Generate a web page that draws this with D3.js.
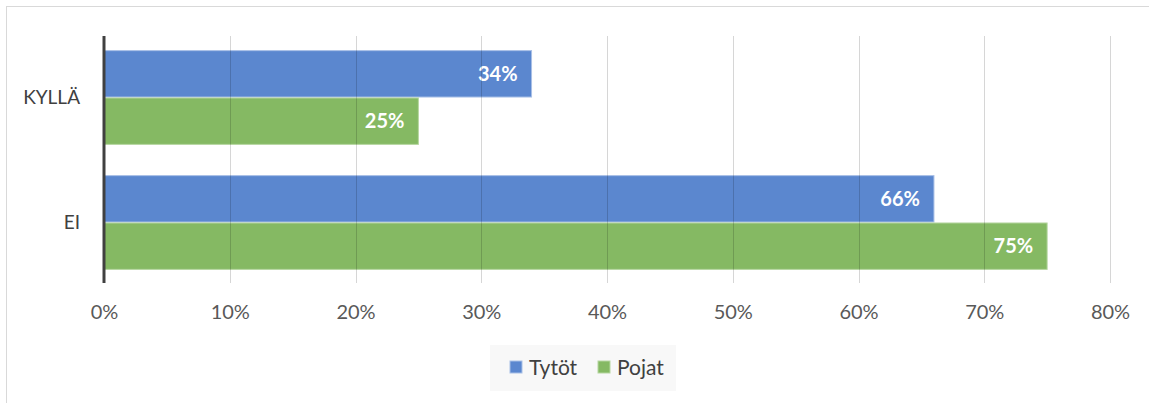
<!DOCTYPE html>
<html>
<head>
<meta charset="utf-8">
<script src="https://cdn.jsdelivr.net/npm/d3@7"></script>
<style>
  body { margin: 0; background: #fff; }
  svg { display: block; font-family: Lato, "Open Sans", sans-serif; }
</style>
</head>
<body>
<div id="chart"></div>
<script>
// chart data
const categories = ['KYLLÄ', 'EI'];
const seriesNames = ['Tytöt', 'Pojat'];
const tytot = [34, 66];
const pojat = [25, 75];
const ticks = [0, 10, 20, 30, 40, 50, 60, 70, 80];

const colors = ['#5b87cf', '#85b963'];
const W = 1149, H = 403;
const margin = {top: 36, right: 38, bottom: 120, left: 104};

const svg = d3.select('#chart').append('svg')
    .attr('width', W)
    .attr('height', H);

// outer frame
svg.append('rect')
    .attr('x', 6.5).attr('y', 6.5)
    .attr('width', W + 20).attr('height', H + 20)
    .attr('fill', 'none')
    .attr('stroke', '#d9d9d9');

const x = d3.scaleLinear()
    .domain([0, 80])
    .range([margin.left, 1110]);

const y = d3.scaleBand()
    .domain(categories)
    .range([margin.top - 1, H - margin.bottom + 2])
    .paddingInner(0.25)
    .paddingOuter(0.125);

const inner = d3.scaleBand()
    .domain(seriesNames)
    .range([0, y.bandwidth()])
    .paddingInner(0.02);

const rows = categories.map((c, i) => ({cat: c, vals: [tytot[i], pojat[i]]}));

const g = svg.append('g');
rows.forEach(r => {
    r.vals.forEach((v, j) => {
        const yy = y(r.cat) + inner(seriesNames[j]);
        g.append('rect')
            .attr('x', x(0))
            .attr('y', yy)
            .attr('width', x(v) - x(0))
            .attr('height', inner.bandwidth())
            .attr('fill', colors[j])
            .attr('stroke', j === 0 ? '#a8bfe6' : '#b5d6a0')
            .attr('stroke-width', 1);
        g.append('text')
            .attr('x', x(v) - 14)
            .attr('y', yy + inner.bandwidth() / 2)
            .attr('dy', '0.36em')
            .attr('text-anchor', 'end')
            .attr('fill', '#fff')
            .attr('font-weight', 'bold')
            .attr('font-size', 20)
            .text(v + '%');
    });
});

// gridlines (drawn over bars, semi-transparent)
const yTop = margin.top, yBot = H - margin.bottom;
svg.append('g').selectAll('line')
    .data(ticks.slice(1))
    .enter().append('line')
    .attr('x1', d => Math.round(x(d)) + 0.5)
    .attr('x2', d => Math.round(x(d)) + 0.5)
    .attr('y1', yTop)
    .attr('y2', yBot)
    .attr('stroke', 'rgba(0,0,0,0.16)')
    .attr('stroke-width', 1);

// x axis labels
const xAxis = svg.append('g')
    .attr('transform', 'translate(0,' + yBot + ')')
    .call(d3.axisBottom(x).tickValues(ticks).tickFormat(d => d + '%').tickSize(0).tickPadding(22));
xAxis.select('.domain').remove();
xAxis.selectAll('text')
    .attr('fill', '#595959')
    .attr('font-size', 20)
    .attr('font-family', 'Lato, "Open Sans", sans-serif');

// category axis
const yAxis = svg.append('g')
    .attr('transform', 'translate(' + x(0) + ',0)')
    .call(d3.axisLeft(y).tickSize(0).tickPadding(24));
yAxis.select('.domain')
    .attr('d', 'M0,' + yTop + 'V' + yBot)
    .attr('stroke', '#404040')
    .attr('stroke-width', 3);
yAxis.selectAll('text')
    .attr('fill', '#404040')
    .attr('font-size', 19)
    .attr('font-family', 'Lato, "Open Sans", sans-serif');

// legend
const legend = svg.append('g');
legend.append('rect')
    .attr('x', 490).attr('y', 345)
    .attr('width', 186).attr('height', 46)
    .attr('fill', '#f8f8f8');
const legX = [510, 598];
seriesNames.forEach((s, i) => {
    legend.append('rect')
        .attr('x', legX[i]).attr('y', 361)
        .attr('width', 12).attr('height', 12)
        .attr('fill', colors[i])
        .attr('stroke', i === 0 ? '#a8bfe6' : '#b5d6a0');
    legend.append('text')
        .attr('x', legX[i] + 19)
        .attr('y', 367)
        .attr('dy', '0.36em')
        .attr('fill', '#404040')
        .attr('font-size', 21)
        .text(s);
});
</script>
</body>
</html>
